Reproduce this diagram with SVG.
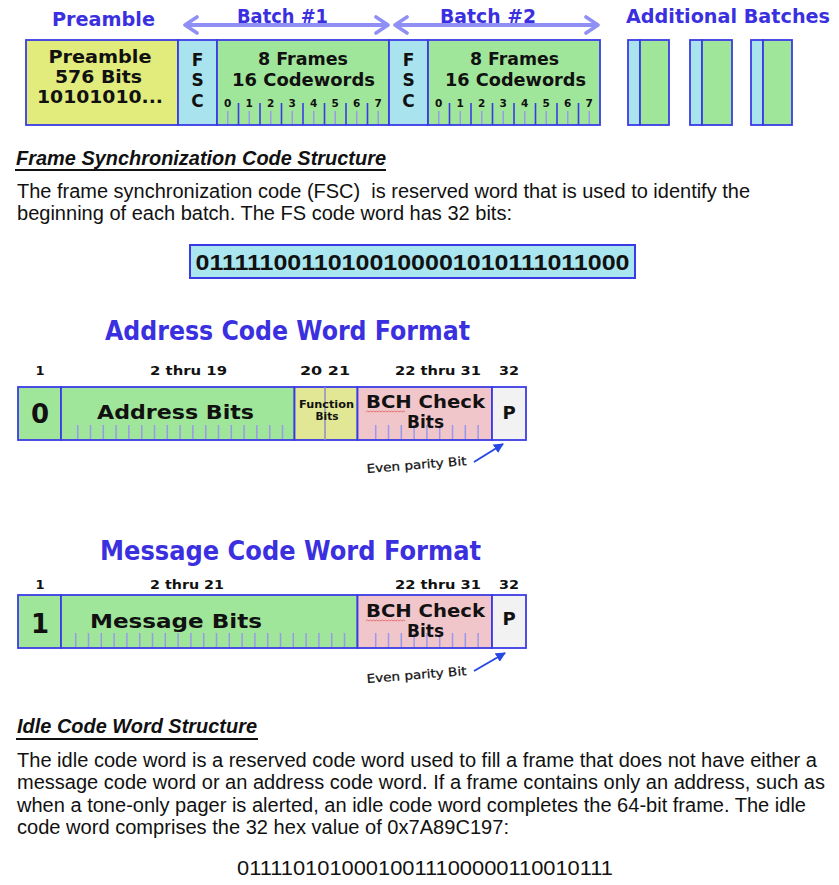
<svg xmlns="http://www.w3.org/2000/svg" width="839" height="885" viewBox="0 0 839 885">
<style>
.ti{font-family:"DejaVu Sans","Liberation Sans",sans-serif;font-weight:bold;fill:#3b30e0}
.bx{font-family:"DejaVu Sans","Liberation Sans",sans-serif;font-weight:bold;fill:#111}
.ep{font-family:"DejaVu Sans","Liberation Sans",sans-serif;fill:#111;stroke:#111;stroke-width:0.25}
.num{font-family:"DejaVu Sans","Liberation Sans",sans-serif;font-weight:bold;fill:#111;font-size:13px}
.par{font-family:"Liberation Sans",Arial,sans-serif;font-size:19.5px;fill:#111}
.hd{font-family:"Liberation Sans",Arial,sans-serif;font-size:19.5px;font-weight:bold;font-style:italic;fill:#111}
.cell{stroke:#3b3be6;stroke-width:1.8}
.pre{fill:#e1ec7c}.fsc{fill:#a9e3ee}.grn{fill:#a0e69a}.fn{fill:#e1e795}.bch{fill:#f1c6cb}.par-c{fill:#f2f2f2}
.dk{stroke:#3b3be6;stroke-width:1.6;fill:none}
.lt{stroke:#9a9aec;stroke-width:1.5;fill:none}
.wav{stroke:#e05a5a;stroke-width:0.8;fill:none}
.ul{stroke:#111;stroke-width:2}
.batch{stroke:#8f8ff5;stroke-width:4;fill:none}
.par-arrow{stroke:#2848e6;stroke-width:2;fill:none}
</style>
<defs>
<marker id="chev" viewBox="0 0 16 20" refX="14" refY="10" markerWidth="16" markerHeight="20" orient="auto-start-reverse" markerUnits="userSpaceOnUse">
<path d="M2,2 L14,10 L2,18" fill="none" stroke="#8f8ff5" stroke-width="3.6" stroke-linecap="round" stroke-linejoin="round"/>
</marker>
<marker id="tri" viewBox="0 0 10 10" refX="9" refY="5" markerWidth="10" markerHeight="10" orient="auto" markerUnits="userSpaceOnUse">
<path d="M0,0 L10,5 L0,10 Z" fill="#2848e6"/>
</marker>
</defs>
<rect width="839" height="885" fill="#fff"/>

<!-- Top titles -->
<g id="titles-top">
<text class="ti" x="52" y="26" font-size="20" textLength="103" lengthAdjust="spacingAndGlyphs">Preamble</text>
<text class="ti" x="237" y="23" font-size="20" textLength="91" lengthAdjust="spacingAndGlyphs">Batch #1</text>
<text class="ti" x="440" y="23" font-size="20" textLength="96" lengthAdjust="spacingAndGlyphs">Batch #2</text>
<text class="ti" x="626" y="23" font-size="20" textLength="204" lengthAdjust="spacingAndGlyphs">Additional Batches</text>
</g>

<g id="preamble">
<rect class="cell pre" x="26" y="40" width="152" height="85"/>
<text class="bx" x="100" y="63" font-size="17" text-anchor="middle" textLength="103" lengthAdjust="spacingAndGlyphs">Preamble</text>
<text class="bx" x="98.5" y="83" font-size="17" text-anchor="middle" textLength="87" lengthAdjust="spacingAndGlyphs">576 Bits</text>
<text class="bx" x="100" y="103" font-size="17" text-anchor="middle" textLength="126" lengthAdjust="spacingAndGlyphs">10101010...</text>
</g>

<g id="fsc1">
<rect class="cell fsc" x="178" y="40" width="39" height="85"/>
<text class="bx" x="197.5" y="66" font-size="17" text-anchor="middle">F</text>
<text class="bx" x="197.5" y="86" font-size="17" text-anchor="middle">S</text>
<text class="bx" x="197.5" y="107" font-size="17" text-anchor="middle">C</text>
</g>

<g id="frames1">
<rect class="cell grn" x="217" y="40" width="172" height="85"/>
<text class="bx" x="303" y="65" font-size="17" text-anchor="middle" textLength="90" lengthAdjust="spacingAndGlyphs">8 Frames</text>
<text class="bx" x="303.5" y="86" font-size="17" text-anchor="middle" textLength="143" lengthAdjust="spacingAndGlyphs">16 Codewords</text>
<path class="dk" d="M238.5,103V125M260,103V125M281.5,103V125M303,103V125M324.5,103V125M346,103V125M367.5,103V125"/>
<path class="lt" d="M227.75,111V124M249.25,111V124M270.75,111V124M292.25,111V124M313.75,111V124M335.25,111V124M356.75,111V124M378.25,111V124"/>
<g class="bx" font-size="10.5" text-anchor="middle">
<text x="227.75" y="107">0</text><text x="249.25" y="107">1</text><text x="270.75" y="107">2</text><text x="292.25" y="107">3</text><text x="313.75" y="107">4</text><text x="335.25" y="107">5</text><text x="356.75" y="107">6</text><text x="378.25" y="107">7</text>
</g>
</g>

<g id="fsc2">
<rect class="cell fsc" x="389" y="40" width="39" height="85"/>
<text class="bx" x="408.5" y="66" font-size="17" text-anchor="middle">F</text>
<text class="bx" x="408.5" y="86" font-size="17" text-anchor="middle">S</text>
<text class="bx" x="408.5" y="107" font-size="17" text-anchor="middle">C</text>
</g>

<g id="frames2">
<rect class="cell grn" x="428" y="40" width="172" height="85"/>
<text class="bx" x="514.5" y="65" font-size="17" text-anchor="middle" textLength="89" lengthAdjust="spacingAndGlyphs">8 Frames</text>
<text class="bx" x="515.5" y="86" font-size="17" text-anchor="middle" textLength="141" lengthAdjust="spacingAndGlyphs">16 Codewords</text>
<path class="dk" d="M449.5,103V125M471,103V125M492.5,103V125M514,103V125M535.5,103V125M557,103V125M578.5,103V125"/>
<path class="lt" d="M438.75,111V124M460.25,111V124M481.75,111V124M503.25,111V124M524.75,111V124M546.25,111V124M567.75,111V124M589.25,111V124"/>
<g class="bx" font-size="10.5" text-anchor="middle">
<text x="438.75" y="107">0</text><text x="460.25" y="107">1</text><text x="481.75" y="107">2</text><text x="503.25" y="107">3</text><text x="524.75" y="107">4</text><text x="546.25" y="107">5</text><text x="567.75" y="107">6</text><text x="589.25" y="107">7</text>
</g>
</g>

<g id="additional-batches">
<rect class="cell fsc" x="628" y="40" width="12" height="85"/><rect class="cell grn" x="640" y="40" width="29" height="85"/>
<rect class="cell fsc" x="690" y="40" width="12" height="85"/><rect class="cell grn" x="702" y="40" width="30" height="85"/>
<rect class="cell fsc" x="751" y="40" width="12" height="85"/><rect class="cell grn" x="763" y="40" width="29" height="85"/>
</g>

<!-- FSC section -->
<g id="fsc-section">
<text class="hd" x="16" y="165" textLength="370" lengthAdjust="spacingAndGlyphs">Frame Synchronization Code Structure</text>
<line class="ul" x1="15" y1="170" x2="386" y2="170"/>
<text class="par" x="17" y="198" textLength="733" lengthAdjust="spacingAndGlyphs" style="white-space:pre">The frame synchronization code (FSC)  is reserved word that is used to identify the</text>
<text class="par" x="17" y="220" textLength="495" lengthAdjust="spacingAndGlyphs">beginning of each batch. The FS code word has 32 bits:</text>
</g>
<g id="fsc-code">
<rect x="190" y="245" width="445" height="33" fill="#a9e6ef" stroke="#3b3be6" stroke-width="2"/>
<text x="412.5" y="270" text-anchor="middle" font-family="Liberation Sans, Arial, sans-serif" font-weight="bold" font-size="22" fill="#111" textLength="434" lengthAdjust="spacingAndGlyphs">01111100110100100001010111011000</text>
</g>

<!-- Address code word -->
<g id="address-word">
<text class="ti" x="105" y="340" font-size="26" textLength="365" lengthAdjust="spacingAndGlyphs">Address Code Word Format</text>
<text class="num" x="40" y="375" text-anchor="middle">1</text>
<text class="num" x="150" y="375" textLength="77" lengthAdjust="spacingAndGlyphs">2 thru 19</text>
<text class="num" x="300" y="375" textLength="50" lengthAdjust="spacingAndGlyphs">20 21</text>
<text class="num" x="395" y="375" textLength="86" lengthAdjust="spacingAndGlyphs">22 thru 31</text>
<text class="num" x="499" y="375" textLength="20" lengthAdjust="spacingAndGlyphs">32</text>
<rect class="cell grn" x="18" y="387" width="43" height="53"/>
<text class="bx" x="40" y="423" font-size="26" text-anchor="middle">0</text>
<rect class="cell grn" x="61" y="387" width="233.5" height="53"/>
<path class="lt" d="M77.7,425V439M90.5,425V439M103.3,425V439M116.1,425V439M128.9,425V439M141.7,425V439M154.5,425V439M167.3,425V439M180.1,425V439M192.9,425V439M205.7,425V439M218.5,425V439M231.3,425V439M244.1,425V439M256.9,425V439M269.7,425V439M282.5,425V439"/>
<text class="bx" x="97" y="419" font-size="19" textLength="157" lengthAdjust="spacingAndGlyphs">Address Bits</text>
<rect class="cell fn" x="294.5" y="387" width="63" height="53"/>
<line x1="325" y1="387" x2="325" y2="440" stroke="#8e8ec4" stroke-width="1.5"/>
<text class="bx" x="326.5" y="408" font-size="10.5" text-anchor="middle" textLength="55" lengthAdjust="spacingAndGlyphs">Function</text>
<text class="bx" x="327" y="420" font-size="10.5" text-anchor="middle">Bits</text>
<rect class="cell bch" x="357.5" y="387" width="134.5" height="53"/>
<path class="lt" d="M375.7,425V439M388.5,425V439M401.3,425V439M414.1,425V439M426.9,425V439M439.7,425V439M452.5,425V439M465.3,425V439M478.1,425V439"/>
<text class="bx" x="366" y="408" font-size="18" textLength="119" lengthAdjust="spacingAndGlyphs">BCH Check</text>
<path class="wav" d="M366,412 l1.5,-1 l1.5,1 l1.5,-1 l1.5,1 l1.5,-1 l1.5,1 l1.5,-1 l1.5,1 l1.5,-1 l1.5,1 l1.5,-1 l1.5,1 l1.5,-1 l1.5,1 l1.5,-1 l1.5,1 l1.5,-1 l1.5,1 l1.5,-1 l1.5,1 l1.5,-1 l1.5,1 l1.5,-1 l1.5,1 l1.5,-1 l1.5,1"/>
<text class="bx" x="425.5" y="428" font-size="18" text-anchor="middle" textLength="37" lengthAdjust="spacingAndGlyphs">Bits</text>
<rect class="cell par-c" x="492" y="387" width="34" height="53"/>
<text class="bx" x="509" y="419" font-size="18" text-anchor="middle">P</text>
<text class="ep" x="367" y="473" font-size="12" textLength="100" lengthAdjust="spacingAndGlyphs" transform="rotate(-4.6 367 473)">Even parity Bit</text>
</g>

<!-- Message code word -->
<g id="message-word">
<text class="ti" x="100" y="560" font-size="26" textLength="381" lengthAdjust="spacingAndGlyphs">Message Code Word Format</text>
<text class="num" x="40" y="589" text-anchor="middle">1</text>
<text class="num" x="150" y="589" textLength="74" lengthAdjust="spacingAndGlyphs">2 thru 21</text>
<text class="num" x="395" y="589" textLength="86" lengthAdjust="spacingAndGlyphs">22 thru 31</text>
<text class="num" x="499" y="589" textLength="20" lengthAdjust="spacingAndGlyphs">32</text>
<rect class="cell grn" x="18" y="595" width="43" height="53"/>
<text class="bx" x="40" y="633" font-size="26" text-anchor="middle">1</text>
<rect class="cell grn" x="61" y="595" width="296.5" height="53"/>
<path class="lt" d="M75.7,633V647M88.5,633V647M101.3,633V647M114.1,633V647M126.9,633V647M139.7,633V647M152.5,633V647M165.3,633V647M178.1,633V647M190.9,633V647M203.7,633V647M216.5,633V647M229.3,633V647M242.1,633V647M254.9,633V647M267.7,633V647M280.5,633V647M293.3,633V647M306.1,633V647M318.9,633V647M331.7,633V647M344.5,633V647"/>
<text class="bx" x="90" y="628" font-size="20" textLength="172" lengthAdjust="spacingAndGlyphs">Message Bits</text>
<rect class="cell bch" x="357.5" y="595" width="134.5" height="53"/>
<path class="lt" d="M375.7,633V647M388.5,633V647M401.3,633V647M414.1,633V647M426.9,633V647M439.7,633V647M452.5,633V647M465.3,633V647M478.1,633V647"/>
<text class="bx" x="366" y="617" font-size="18" textLength="119" lengthAdjust="spacingAndGlyphs">BCH Check</text>
<path class="wav" d="M366,621 l1.5,-1 l1.5,1 l1.5,-1 l1.5,1 l1.5,-1 l1.5,1 l1.5,-1 l1.5,1 l1.5,-1 l1.5,1 l1.5,-1 l1.5,1 l1.5,-1 l1.5,1 l1.5,-1 l1.5,1 l1.5,-1 l1.5,1 l1.5,-1 l1.5,1 l1.5,-1 l1.5,1 l1.5,-1 l1.5,1 l1.5,-1 l1.5,1"/>
<text class="bx" x="425.5" y="637" font-size="18" text-anchor="middle" textLength="37" lengthAdjust="spacingAndGlyphs">Bits</text>
<rect class="cell par-c" x="492" y="595" width="34" height="53"/>
<text class="bx" x="509" y="625" font-size="18" text-anchor="middle">P</text>
<text class="ep" x="367" y="683" font-size="12" textLength="100" lengthAdjust="spacingAndGlyphs" transform="rotate(-4.6 367 683)">Even parity Bit</text>
</g>

<!-- Idle section -->
<g id="idle-section">
<text class="hd" x="17" y="733" textLength="240" lengthAdjust="spacingAndGlyphs">Idle Code Word Structure</text>
<line class="ul" x1="16" y1="739" x2="258" y2="739"/>
<text class="par" x="17" y="767" textLength="800" lengthAdjust="spacingAndGlyphs">The idle code word is a reserved code word used to fill a frame that does not have either a</text>
<text class="par" x="17" y="789" textLength="808" lengthAdjust="spacingAndGlyphs">message code word or an address code word. If a frame contains only an address, such as</text>
<text class="par" x="17" y="812" textLength="789" lengthAdjust="spacingAndGlyphs">when a tone-only pager is alerted, an idle code word completes the 64-bit frame. The idle</text>
<text class="par" x="17" y="834" textLength="492" lengthAdjust="spacingAndGlyphs">code word comprises the 32 hex value of 0x7A89C197:</text>
<text class="par" x="237" y="875" textLength="376" lengthAdjust="spacingAndGlyphs">01111010100010011100000110010111</text>
</g>

<!-- Connectors -->
<g id="connectors">
<line class="batch" x1="185" y1="25" x2="388" y2="25" marker-start="url(#chev)" marker-end="url(#chev)"/>
<line class="batch" x1="395" y1="25" x2="598" y2="25" marker-start="url(#chev)" marker-end="url(#chev)"/>
<line class="par-arrow" x1="474" y1="462" x2="503" y2="444" marker-end="url(#tri)"/>
<line class="par-arrow" x1="474" y1="671" x2="505" y2="653" marker-end="url(#tri)"/>
</g>
</svg>
